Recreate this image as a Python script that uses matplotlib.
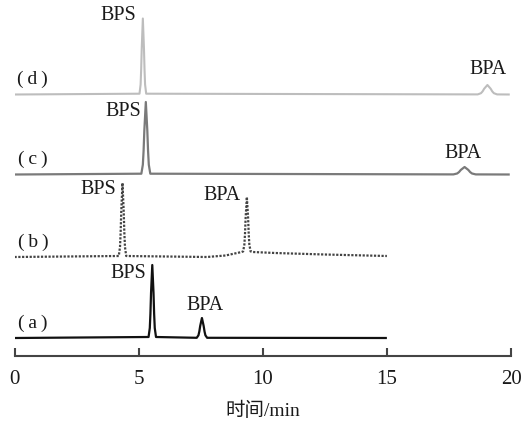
import matplotlib.pyplot as plt

plt.rcParams['font.family'] = ['Liberation Serif', 'DejaVu Serif', 'Noto Sans CJK SC']

# chromatogram traces (time / min, signal relative to own baseline)
t_a = [0, 5.40, 5.45, 5.475, 5.50, 5.55, 5.60, 5.625, 5.65, 5.70,
       7.34, 7.41, 7.445, 7.48, 7.55, 7.62, 7.655, 7.69, 7.76, 15]
y_a = [0, 1, 10, 24, 45, 73, 45, 24, 10, 1,
       0.2, 2.7, 6.5, 12, 20, 12, 6.5, 2.7, 0.2, 0]

t_b = [0, 4.20, 4.25, 4.275, 4.30, 4.35, 4.40, 4.425, 4.45, 4.50,
       7.75, 8.5, 9.15, 9.21, 9.26, 9.285, 9.31, 9.36, 9.41, 9.435, 9.46, 9.51,
       9.6, 10.5, 12.5, 15]
y_b = [0, 1, 10, 24, 45, 74, 45, 24, 10, 1,
       0, 1.5, 5, 5.6, 12.5, 23, 39, 60, 39, 23, 12.5, 5.6,
       5, 4, 2.5, 1]

t_c = [0, 5.11, 5.17, 5.20, 5.23, 5.29, 5.35, 5.38, 5.41, 5.47,
       17.68, 17.83, 17.905, 17.98, 18.13, 18.28, 18.355, 18.43, 18.58, 19.95]
y_c = [0, 0.8, 9.8, 23.6, 44, 72.5, 44, 23.6, 9.8, 0.8,
       0.1, 1, 2.4, 4.6, 7.5, 4.6, 2.4, 1, 0.1, 0]

t_d = [0, 5.035, 5.08, 5.1025, 5.125, 5.17, 5.215, 5.2375, 5.26, 5.305,
       18.66, 18.79, 18.855, 18.92, 19.05, 19.18, 19.245, 19.31, 19.44, 19.95]
y_d = [0, 0.8, 10, 25, 46, 76, 46, 25, 10, 0.8,
       0.1, 1.3, 3.1, 5.8, 9.5, 5.8, 3.1, 1.3, 0.1, 0]

panel_names = ['(\u2009a\u2009)', '(\u2009b\u2009)', '(\u2009c\u2009)', '(\u2009d\u2009)']
peak_names = ['BPS', 'BPA']
x_ticks = [0, 5, 10, 15, 20]

offsets = [18, 99, 181.5, 261.5]

fig = plt.figure(figsize=(5.24, 4.22), dpi=100)
ax = fig.add_axes([14.5 / 524, 66 / 422, 496.5 / 524, 356 / 422])

traces = [(t_a, y_a), (t_b, y_b), (t_c, y_c), (t_d, y_d)]
colors = ['#111111', '#444444', '#7a7a7a', '#bdbdbd']
styles = ['-', (0, (1, 0.7)), '-', '-']
widths = [1.6, 1.6, 1.6, 1.5]
for (t, y), off, c, ls, lw in zip(traces, offsets, colors, styles, widths):
    ax.plot(t, [v + off for v in y], color=c, ls=ls, lw=lw, solid_capstyle='butt')

# panel labels
for name, off in zip(panel_names, offsets):
    ax.text(0.74, off + 15, name, ha='center', va='center', fontsize=14, color='#1a1a1a')

# peak labels (x, y)
peak_pos = [
    (4.57, 83, 7.67, 51),
    (3.38, 166, 8.35, 161),
    (4.37, 244, 18.07, 202),
    (4.17, 340.5, 19.07, 286),
]
for xs, ys, xa, ya in peak_pos:
    ax.text(xs, ys, peak_names[0], ha='center', va='center', fontsize=14.5, color='#1a1a1a')
    ax.text(xa, ya, peak_names[1], ha='center', va='center', fontsize=14.5, color='#1a1a1a')

ax.set_xlim(0, 20)
ax.set_ylim(0, 356)
for s in ['left', 'right', 'top']:
    ax.spines[s].set_visible(False)
ax.spines['bottom'].set_color('#444444')
ax.spines['bottom'].set_linewidth(1.5)
ax.set_yticks([])
ax.set_xticks(x_ticks)
ax.tick_params(axis='x', direction='in', length=6, width=1.5, color='#444444',
               labelsize=15, pad=10, labelcolor='#1a1a1a')
ax.set_xlabel('时间/min', fontsize=14, labelpad=9, color='#1a1a1a')

fig.savefig('out.png', dpi=100)
